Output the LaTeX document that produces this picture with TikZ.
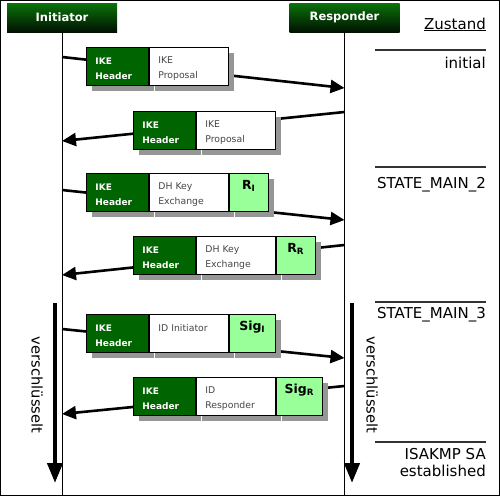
\documentclass[tikz,border=0pt]{standalone}
\usepackage{fontspec}
\setmainfont{DejaVu Sans}
\usetikzlibrary{positioning,arrows.meta,shadows}
\definecolor{boxdark}{RGB}{0,100,0}
\definecolor{boxlight}{RGB}{153,255,153}
\definecolor{shadegray}{RGB}{150,150,150}
\definecolor{hdrgreen}{RGB}{10,115,10}
\definecolor{paytext}{RGB}{70,70,70}
\tikzset{
  party/.style={top color=hdrgreen, bottom color=black!85!hdrgreen, text=white,
    font=\fontsize{11.5}{13}\selectfont\bfseries, minimum width=110pt, minimum height=29pt, inner sep=0pt},
  part/.style={draw, line width=0.9pt, minimum height=38pt, inner ysep=0pt,
    execute at begin node={\rule{0pt}{12pt}},
    general shadow={fill=shadegray, shadow xshift=6pt, shadow yshift=-6pt}},
  hdr/.style={part, fill=boxdark, text=white, text width=44pt, inner xsep=9pt, align=left,
    font=\fontsize{9}{15}\selectfont\bfseries},
  payload/.style={part, fill=white, text=paytext, text width=#1, inner xsep=9pt, align=left,
    font=\fontsize{9.3}{15}\selectfont},
  payload/.default=61pt,
  auth/.style={part, fill=boxlight, minimum width=#1, inner xsep=0pt, align=center,
    font=\fontsize{12.5}{15}\selectfont\bfseries},
  auth/.default=39pt,
  msg/.style={line width=2.6pt, -{Triangle[length=14pt,width=13pt]}},
  crypt/.style={line width=4.2pt, -{Triangle[length=20pt,width=15pt]}},
  state/.style={anchor=base east, inner sep=0pt, font=\fontsize{15}{17}\selectfont, align=right},
  rule/.style={line width=1.2pt, black!80},
}
\begin{document}
\begin{tikzpicture}[x=1pt,y=-1pt]
  \useasboundingbox (0,0) rectangle (500,496);
  \draw[line width=1pt] (0.5,0.5) rectangle (499.5,495.5);
  % parties and lifelines
  \node[party] (init) at (62,17.5) {Initiator};
  \node[party] (resp) at (344.5,17.5) {Responder};
  \coordinate (initend) at (init |- 0,496);
  \coordinate (respend) at (resp |- 0,496);
  \draw[line width=1pt] (init.south) -- (initend);
  \draw[line width=1pt] (resp.south) -- (respend);
  % states
  \node[state] (zustand) at (486,29) {\underline{Zustand}};
  \draw[rule] (375,50) -- (486,50);
  \node[state] (sinit) at (486,68) {initial};
  \draw[rule] (375,167) -- (486,167);
  \node[state] (smain2) at (486,188) {STATE\_MAIN\_2};
  \draw[rule] (375,302) -- (486,302);
  \node[state] (smain3) at (486,318) {STATE\_MAIN\_3};
  \draw[rule] (375,442) -- (486,442);
  \node[state] (sdone) at (486,476) {ISAKMP SA\\established};
  % message lines
  \coordinate (a1) at (init |- 0,57);  \coordinate (b1) at (resp |- 0,88);
  \coordinate (a2) at (init |- 0,141); \coordinate (b2) at (resp |- 0,112);
  \coordinate (a3) at (init |- 0,190); \coordinate (b3) at (resp |- 0,220);
  \coordinate (a4) at (init |- 0,275); \coordinate (b4) at (resp |- 0,245);
  \coordinate (a5) at (init |- 0,329); \coordinate (b5) at (resp |- 0,358);
  \coordinate (a6) at (init |- 0,414); \coordinate (b6) at (resp |- 0,386);
  \draw[msg] (a1) -- (b1);
  \draw[msg] (b2) -- (a2);
  \draw[msg] (a3) -- (b3);
  \draw[msg] (b4) -- (a4);
  \draw[msg] (a5) -- (b5);
  \draw[msg] (b6) -- (a6);
  % packets
  \node[hdr, anchor=north west] (h1) at (86,47) {IKE\\Header};
  \node[payload, right=0pt of h1] (p1) {IKE\\Proposal};
  \node[hdr, anchor=north west] (h2) at (133,111) {IKE\\Header};
  \node[payload, right=0pt of h2] (p2) {IKE\\Proposal};
  \node[hdr, anchor=north west] (h3) at (86,173) {IKE\\Header};
  \node[payload, right=0pt of h3] (p3) {DH Key\\Exchange};
  \node[auth, right=0pt of p3] (r3) {R\textsubscript{I}\\\mbox{}};
  \node[hdr, anchor=north west] (h4) at (133,236) {IKE\\Header};
  \node[payload, right=0pt of h4] (p4) {DH Key\\Exchange};
  \node[auth, right=0pt of p4] (r4) {R\textsubscript{R}\\\mbox{}};
  \node[hdr, anchor=north west] (h5) at (86,314) {IKE\\Header};
  \node[payload, right=0pt of h5] (p5) {ID Initiator\\\mbox{}};
  \node[auth=46pt, right=0pt of p5] (s5) {Sig\textsubscript{I}\\\mbox{}};
  \node[hdr, anchor=north west] (h6) at (133,377) {IKE\\Header};
  \node[payload, right=0pt of h6] (p6) {ID\\Responder};
  \node[auth=46pt, right=0pt of p6] (s6) {Sig\textsubscript{R}\\\mbox{}};
  % encrypted phase
  \coordinate (ltop) at (55,303);  \coordinate (lbot) at (55,483);
  \coordinate (rtop) at (352,303); \coordinate (rbot) at (352,483);
  \draw[crypt] (ltop) -- (lbot);
  \draw[crypt] (rtop) -- (rbot);
  \node[rotate=-90, font=\fontsize{14.7}{17}\selectfont] (lenc) at (37,385) {verschlüsselt};
  \node[rotate=-90, font=\fontsize{14.7}{17}\selectfont] (renc) at (372,385) {verschlüsselt};
\end{tikzpicture}
\end{document}
